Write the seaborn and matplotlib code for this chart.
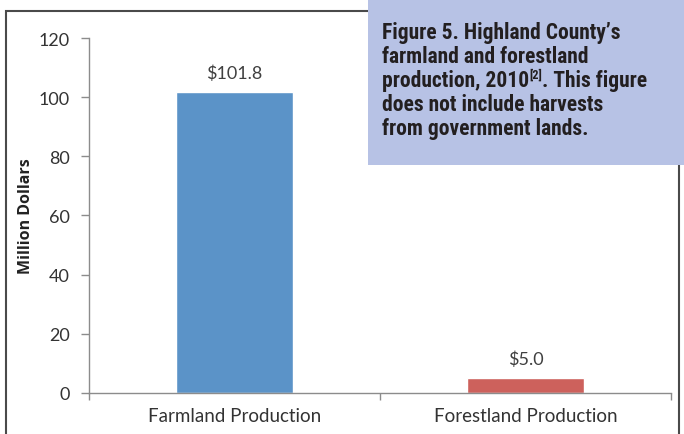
import matplotlib
matplotlib.use("Agg")
import matplotlib.pyplot as plt
import seaborn as sns
import pandas as pd
from matplotlib.patches import Rectangle
from matplotlib.transforms import offset_copy

# data
categories = ["Farmland Production", "Forestland Production"]
values = [101.8, 5.0]
bar_colors = ["#5B93C8", "#CD615C"]
y_ticks = [0, 20, 40, 60, 80, 100, 120]

# caption lines; line 3 is split around the superscript reference
caption_lines = ["Figure 5. Highland County\u2019s",
                 "farmland and forestland",
                 ["production, 2010", "[2]", ". This figure"],
                 "does not include harvests",
                 "from government lands."]

sns.set_theme(style="white")
plt.rcParams["font.family"] = ["Lato", "DejaVu Sans"]

df = pd.DataFrame({"category": categories, "value": values})

fig = plt.figure(figsize=(6.84, 4.35), dpi=100)
ax = fig.add_axes([0.130, 0.0943, 0.851, 0.816])

sns.barplot(data=df, x="category", y="value", hue="category",
            palette=bar_colors, width=0.4, saturation=1, legend=False, ax=ax)

for cont in ax.containers:
    ax.bar_label(cont, labels=[f"${v:.1f}" for v in cont.datavalues],
                 padding=8, fontsize=13, color="#404040")

ax.set_ylim(0, 120)
ax.set_xlim(-0.5, 1.5)
ax.set_yticks(y_ticks)
ax.set_xlabel("")
ax.set_ylabel("Million Dollars", fontsize=11.5, fontweight="bold",
              color="#222222", family=["Open Sans", "DejaVu Sans"])
ax.yaxis.set_label_coords(-0.094, 0.5)

for side in ["top", "right"]:
    ax.spines[side].set_visible(False)
for side in ["left", "bottom"]:
    ax.spines[side].set_color("#8C8C8C")
    ax.spines[side].set_linewidth(1.0)

ax.tick_params(axis="y", which="major", left=True, length=6, width=1,
               color="#8C8C8C", labelsize=13, labelcolor="#333333", pad=8)
ax.tick_params(axis="x", which="major", length=0, labelsize=13.5,
               labelcolor="#333333", pad=10)
ax.set_xticks([-0.5, 0.5, 1.5], minor=True)
ax.tick_params(axis="x", which="minor", bottom=True, length=5, width=1,
               color="#8C8C8C")

# outer frame of the chart area
fig.patches.append(Rectangle((6 / 684, -0.05), 673 / 684, 1.05 - 12 / 435,
                             transform=fig.transFigure, fill=False,
                             edgecolor="#4A4A4A", linewidth=1.5, zorder=0))

# caption box top right
fig.patches.append(Rectangle((368 / 684, 1 - 166 / 435), 316 / 684, 166 / 435,
                             transform=fig.transFigure, facecolor="#B7C2E5",
                             edgecolor="none", zorder=5))

cap_style = dict(fontweight="bold", color="#231F20", zorder=6,
                 family=["Roboto Condensed", "DejaVu Sans"])
renderer = fig.canvas.get_renderer()
for i, line in enumerate(caption_lines):
    y = 1 - (39 + 24 * i) / 435
    if isinstance(line, str):
        fig.text(382 / 684, y, line, ha="left", va="baseline",
                 fontsize=15.5, **cap_style)
        continue
    # pieces: normal text, small raised superscript, normal text
    x_px = 382
    for j, piece in enumerate(line):
        sup = j == 1
        t = fig.text(x_px / 684, y, piece, ha="left", va="baseline",
                     fontsize=9 if sup else 15.5, **cap_style)
        if sup:
            t.set_transform(offset_copy(fig.transFigure, fig=fig, y=6,
                                        units="points"))
        x_px += t.get_window_extent(renderer).width

fig.savefig("out.png", dpi=100)
